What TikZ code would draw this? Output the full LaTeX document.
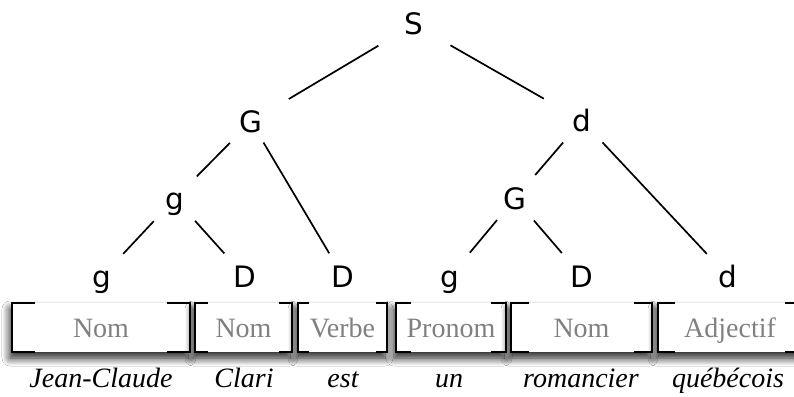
\documentclass[tikz,border=0pt]{standalone}
\usepackage{fontspec}
\setmainfont{Liberation Serif}
\newfontfamily\treefont{DejaVu Sans}
\usetikzlibrary{shadows.blur}
\tikzset{
  tnode/.style={inner sep=0pt, text height=21pt, text depth=0pt,
    font=\treefont\fontsize{29.5}{32}\selectfont},
  edge/.style={line width=1.7pt, shorten <=30pt, shorten >=31pt},
  catbox/.style={fill=white, inner sep=0pt, minimum height=49pt,
    text height=19pt, text depth=0pt, text=black!50,
    font=\fontsize{28}{30}\selectfont,
    blur shadow={shadow xshift=-2pt, shadow yshift=-6pt,
      shadow blur radius=8pt, shadow blur steps=12, shadow opacity=90}},
  brkline/.style={line width=2.2pt, line cap=butt, line join=miter},
  word/.style={inner sep=0pt, anchor=base, font=\itshape\fontsize{28}{30}\selectfont}
}
\newcommand\brk[2]{%
  \draw[brkline] ([xshift=#2]#1.north west) -- (#1.north west) -- (#1.south west) -- ([xshift=#2]#1.south west);
  \draw[brkline] ([xshift=-#2]#1.north east) -- (#1.north east) -- (#1.south east) -- ([xshift=-#2]#1.south east);}
\begin{document}
\begin{tikzpicture}[x=1pt,y=-1pt]
\useasboundingbox[fill=white] (0,0) rectangle (794,396);
% tree nodes
\node[tnode] (S)  at (414,24.5) {S};
\node[tnode] (G1) at (251,121.5) {G};
\node[tnode] (d1) at (582,120.5) {d};
\node[tnode] (g2) at (175,198.5) {g};
\node[tnode] (G2) at (515,198.5) {G};
\node[tnode] (b1) at (102,276.5) {g};
\node[tnode] (b2) at (245,276.5) {D};
\node[tnode] (b3) at (343,276.5) {D};
\node[tnode] (b4) at (450,276.5) {g};
\node[tnode] (b5) at (582,276.5) {D};
\node[tnode] (b6) at (728,276.5) {d};
% edges
\draw[edge, shorten <=41.5pt, shorten >=44pt] (S.center) -- (G1.center);
\draw[edge, shorten <=42pt, shorten >=44pt] (S.center) -- (d1.center);
\draw[edge] (G1.center) -- (g2.center);
\draw[edge, shorten <=24.5pt, shorten >=27pt] (G1.center) -- (b3.center);
\draw[edge, shorten <=31pt] (g2.center) -- (b1.center);
\draw[edge] (g2.center) -- (b2.center);
\draw[edge, shorten <=29pt] (d1.center) -- (G2.center);
\draw[edge] (d1.center) -- (b6.center);
\draw[edge, shorten <=28pt] (G2.center) -- (b4.center);
\draw[edge, shorten <=29pt] (G2.center) -- (b5.center);
% category boxes
\node[catbox, minimum width=178pt] (c1) at (101,327.5) {Nom};
\node[catbox, minimum width=97pt]  (c2) at (243.5,327.5) {Nom};
\node[catbox, minimum width=89pt]  (c3) at (342.5,327.5) {Verbe};
\node[catbox, minimum width=110pt] (c4) at (451,327.5) {Pronom};
\node[catbox, minimum width=141pt] (c5) at (581.5,327.5) {Nom};
\node[catbox, minimum width=144pt] (c6) at (730,327.5) {Adjectif};
\brk{c1}{23pt}
\brk{c2}{13pt}
\brk{c3}{11pt}
\brk{c4}{15pt}
\brk{c5}{18pt}
\brk{c6}{17pt}
% words
\node[word] (w1) at (101,387) {Jean-Claude};
\node[word] (w2) at (244,387) {Clari};
\node[word] (w3) at (343,387) {est};
\node[word] (w4) at (449,387) {un};
\node[word] (w5) at (581,387) {romancier};
\node[word] (w6) at (728,387) {québécois};
\end{tikzpicture}
\end{document}
